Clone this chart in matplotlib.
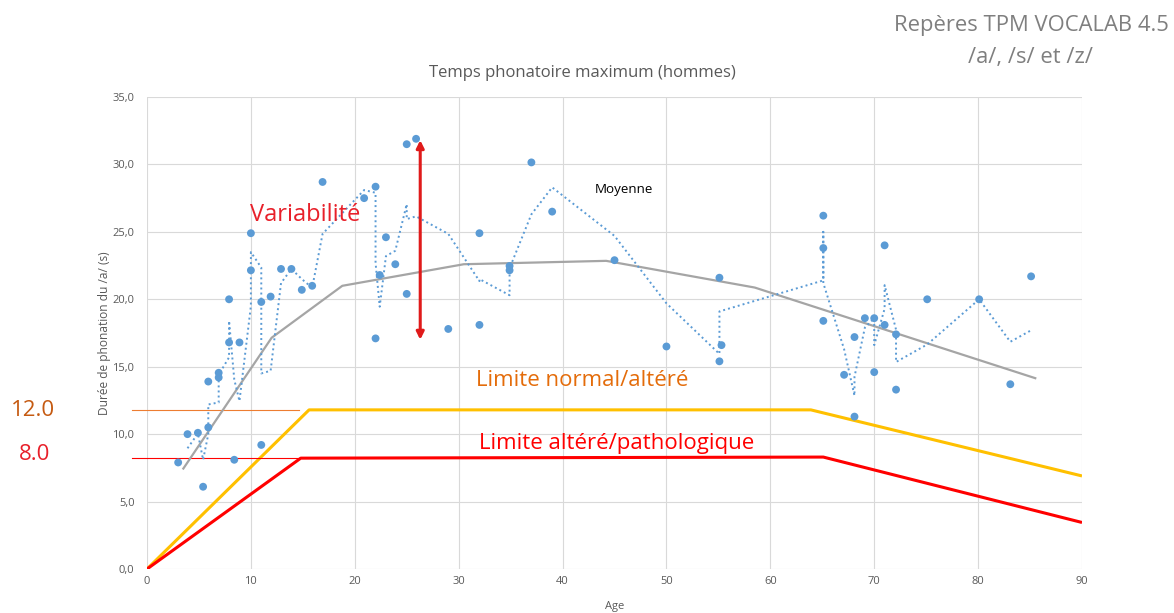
import matplotlib
matplotlib.use("Agg")
import matplotlib.pyplot as plt

plt.rcParams['font.family'] = ['Open Sans', 'DejaVu Sans']

# Scatter data (age, maximum phonation time /a/ in s)
ages = [3.0, 3.9, 4.9, 5.4, 5.9, 5.9, 6.9, 6.9, 7.9, 7.9, 8.4, 8.9, 10.0, 10.0,
        11.0, 11.0, 11.9, 12.9, 13.9, 14.9, 15.9, 16.9, 20.9, 22.0, 22.0, 22.4,
        23.0, 23.9, 25.0, 25.0, 25.9, 29.0, 32.0, 32.0, 34.9, 34.9, 37.0, 39.0,
        45.0, 50.0, 55.1, 55.3, 55.1, 65.1, 65.1, 65.1, 67.1, 68.1, 68.1, 69.1,
        70.0, 70.0, 71.0, 71.0, 72.1, 72.1, 75.1, 80.1, 83.1, 85.1]
durees = [7.9, 10.0, 10.1, 6.1, 13.9, 10.5, 14.2, 14.55, 16.8, 20.0, 8.1, 16.8, 22.15, 24.9,
          19.8, 9.2, 20.2, 22.25, 22.25, 20.7, 21.0, 28.7, 27.5, 28.35, 17.1, 21.8,
          24.6, 22.6, 31.5, 20.4, 31.9, 17.8, 24.9, 18.1, 22.47, 22.15, 30.15, 26.5,
          22.9, 16.5, 15.4, 16.6, 21.6, 26.2, 23.8, 18.4, 14.4, 11.3, 17.2, 18.6,
          18.6, 14.6, 24.0, 18.1, 17.4, 13.3, 20.0, 20.0, 13.7, 21.7]

# Dotted moving-average line (vertices)
ma_ages = [3.9, 4.9, 5.4, 5.9, 5.9, 6.9, 6.9, 7.9, 7.9, 8.4, 8.9, 10.0, 10.0, 11.0, 11.0,
           11.9, 12.9, 13.9, 14.9, 15.9, 16.9, 20.9, 22.0, 22.0, 22.4, 23.0, 23.9, 25.0,
           25.0, 25.9, 29.0, 32.0, 32.0, 34.9, 34.9, 37.0, 39.0, 45.0, 50.0, 55.1, 55.1,
           55.1, 65.1, 65.1, 65.1, 67.1, 68.1, 68.1, 69.1, 70.0, 70.0, 71.0, 71.0, 72.1,
           72.1, 75.1, 80.1, 83.1, 85.1]
ma_vals = [8.95, 10.05, 8.1, 10.0, 12.2, 12.35, 14.4, 15.7, 18.4, 14.05, 12.45, 19.5, 23.5,
           22.35, 14.5, 14.7, 21.2, 22.25, 21.5, 20.85, 24.85, 28.1, 27.9, 22.7, 19.45, 23.2,
           23.6, 27.05, 25.95, 26.15, 24.85, 21.35, 21.5, 20.3, 22.3, 26.3, 28.3, 24.7, 19.7,
           15.95, 16.0, 19.1, 21.4, 25.0, 21.2, 16.3, 12.85, 14.25, 17.9, 18.6, 16.6, 19.3,
           21.05, 17.75, 15.35, 16.65, 20.0, 16.85, 17.7]

# Grey mean line
moy_ages = [3.5, 12.0, 18.8, 30.5, 44.2, 58.5, 85.5]
moy_vals = [7.45, 17.15, 21.0, 22.6, 22.85, 20.87, 14.15]

# Threshold lines
normal_ages = [0, 15.6, 63.9, 90]
normal_vals = [0, 11.8, 11.8, 6.9]
patho_ages = [0, 14.8, 65.1, 90]
patho_vals = [0, 8.22, 8.3, 3.45]

# Horizontal reference marks
ref_12 = 11.8
ref_8 = 8.22

x_ticks = [0, 10, 20, 30, 40, 50, 60, 70, 80, 90]
y_ticks = [0, 5, 10, 15, 20, 25, 30, 35]

fig = plt.figure(figsize=(11.74, 6.13), dpi=100)
ax = fig.add_axes([147 / 1174, 1 - 569 / 613, (1082 - 147) / 1174, (569 - 97) / 613])

ax.set_xlim(0, 90)
ax.set_ylim(0, 35)
ax.set_xticks(x_ticks)
ax.set_yticks(y_ticks)
ax.set_yticklabels([f"{v:.1f}".replace('.', ',') for v in y_ticks])
ax.tick_params(length=0, labelsize=8, colors='#595959')
ax.tick_params(axis='y', pad=9)
ax.tick_params(axis='x', pad=5)
for s in ax.spines.values():
    s.set_visible(False)
ax.grid(True, color='#D9D9D9', lw=0.8)
ax.set_axisbelow(True)

# thresholds
ax.plot(normal_ages, normal_vals, color='#FFC000', lw=2.2, solid_capstyle='butt', zorder=2)
ax.plot(patho_ages, patho_vals, color='#FF0000', lw=2.2, solid_capstyle='butt', zorder=2)
ax.plot([-1.45, 14.6], [ref_12, ref_12], color='#ED7D31', lw=0.8, clip_on=False, zorder=2)
ax.plot([-1.45, 14.6], [ref_8, ref_8], color='#FF0000', lw=0.8, clip_on=False, zorder=2)

# mean and moving average
ax.plot(moy_ages, moy_vals, color='#A5A5A5', lw=1.6, zorder=3)
ax.plot(ma_ages, ma_vals, color='#5B9BD5', lw=1.4, linestyle=(0, (1, 1.6)), zorder=3)
ax.scatter(ages, durees, s=32, color='#5B9BD5', edgecolors='none', zorder=4)

# variability arrow
ax.annotate('', xy=(26.3, 31.8), xytext=(26.3, 17.0),
            arrowprops=dict(arrowstyle='<|-|>', color='#E01A1A', lw=2.2, mutation_scale=11,
                            shrinkA=0, shrinkB=0), zorder=5)

ax.set_xlabel('Age', fontsize=8, color='#595959', labelpad=10)
ax.set_ylabel('Durée de phonation du /a/ (s)', fontsize=8.6, color='#595959', labelpad=1)

fig.text(582 / 1174, 1 - 73 / 613, 'Temps phonatoire maximum (hommes)', ha='center', va='center',
         fontsize=12, color='#595959')
fig.text(1031 / 1174, 1 - 25 / 613, 'Repères TPM VOCALAB 4.5', ha='center', va='center',
         fontsize=15.8, color='#7F7F7F')
fig.text(1031 / 1174, 1 - 57 / 613, '/a/, /s/ et /z/', ha='center', va='center',
         fontsize=15.8, color='#7F7F7F')

fig.text(305 / 1174, 1 - 215 / 613, 'Variabilité', ha='center', va='center',
         fontsize=17, color='#E8202A')
fig.text(624 / 1174, 1 - 189 / 613, 'Moyenne', ha='center', va='center',
         fontsize=9.6, color='#000000')
fig.text(582 / 1174, 1 - 381 / 613, 'Limite normal/altéré', ha='center', va='center',
         fontsize=16, color='#E46C0A')
fig.text(617 / 1174, 1 - 443 / 613, 'Limite altéré/pathologique', ha='center', va='center',
         fontsize=16, color='#FF0000')
fig.text(33 / 1174, 1 - 411 / 613, '12.0', ha='center', va='center',
         fontsize=16, color='#C55A11')
fig.text(35 / 1174, 1 - 454 / 613, '8.0', ha='center', va='center',
         fontsize=16, color='#E8202A')

fig.savefig('out.png', dpi=100)
